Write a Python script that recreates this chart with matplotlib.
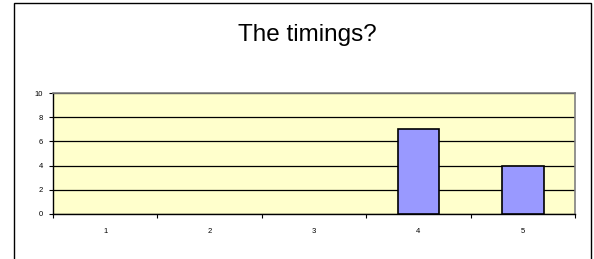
import matplotlib
matplotlib.use("Agg")
import matplotlib.pyplot as plt
from matplotlib.patches import Rectangle

categories = ["1", "2", "3", "4", "5"]
values = [0, 0, 0, 7, 4]
yticks = [0, 2, 4, 6, 8, 10]

plt.rcParams['font.family'] = ['Liberation Sans', 'DejaVu Sans']

fig = plt.figure(figsize=(5.94, 2.59), dpi=100)
fig.patch.set_facecolor('white')

# outer chart border
fig.patches.append(Rectangle((14/594, -0.05), (591-14)/594, 1.05 - 3/259,
                             transform=fig.transFigure, fill=False,
                             edgecolor='black', linewidth=1.0, zorder=0))

ax = fig.add_axes([53/594, 1-214/259, (575-53)/594, (214-93)/259])
ax.set_facecolor('#FFFFCC')
x = list(range(1, len(categories) + 1))
edges = ['black' if v > 0 else 'none' for v in values]
ax.bar(x, values, width=0.4, color='#9999FF', edgecolor=edges, linewidth=1.2, zorder=3)

ax.set_xlim(0.5, len(categories) + 0.5)
ax.set_ylim(0, 10)
ax.set_yticks(yticks)
ax.set_yticklabels([str(v) for v in yticks], fontsize=5.5)
ax.yaxis.grid(True, color='black', linewidth=0.9, zorder=1)
ax.set_axisbelow(True)

ax.set_xticks([i + 0.5 for i in range(len(categories) + 1)])
ax.set_xticklabels([''] * (len(categories) + 1))
ax.set_xticks(x, minor=True)
ax.set_xticklabels(categories, minor=True, fontsize=5.5)
ax.tick_params(axis='x', which='minor', length=0, pad=10)
ax.tick_params(axis='x', which='major', length=3, width=0.8, direction='out')
ax.tick_params(axis='y', length=3, width=0.8, direction='out', pad=4)

for s in ['top', 'right']:
    ax.spines[s].set_color('#808080')
    ax.spines[s].set_linewidth(1.2)
ax.spines['left'].set_color('black')
ax.spines['left'].set_linewidth(1.0)
ax.spines['bottom'].set_color('black')
ax.spines['bottom'].set_linewidth(1.0)

fig.text(0.517, 1-35/259, "The timings?", ha='center', va='center', fontsize=17.5)

fig.savefig("out.png", dpi=100)
